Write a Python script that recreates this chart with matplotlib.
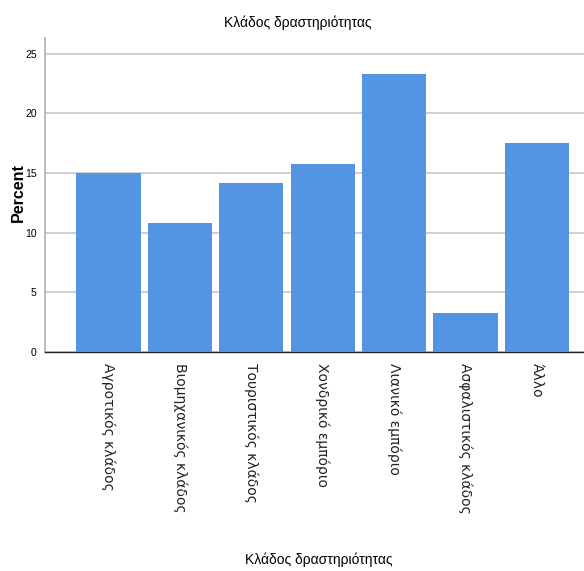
import matplotlib.pyplot as plt
import numpy as np

categories = ['Αγροτικός κλάδος', 'Βιομηχανικός κλάδος', 'Τουριστικός κλάδος',
              'Χονδρικό εμπόριο', 'Λιανικό εμπόριο', 'Ασφαλιστικός κλάδος', 'Άλλο']
percent = [15.0, 10.8, 14.2, 15.8, 23.3, 3.3, 17.5]
yticks = [0, 5, 10, 15, 20, 25]

narrow = ['Liberation Sans Narrow', 'Liberation Sans', 'DejaVu Sans']

fig = plt.figure(figsize=(5.84, 5.71), dpi=100)
ax = fig.add_axes([0.077, 0.3835, 1.0 - 0.077, 0.933 - 0.3835])

x = np.arange(len(categories))
ax.bar(x, percent, width=0.9, color='#5394e3', zorder=3)

ax.set_xlim(-0.89, 6.66)
ax.set_ylim(0, 26.3)
ax.set_yticks(yticks)
ax.set_yticklabels([str(t) for t in yticks], family=narrow, fontsize=7.5)
ax.yaxis.grid(True, color='#c8c8c8', linewidth=1.2, zorder=0)
ax.tick_params(axis='y', length=0, pad=6)
ax.tick_params(axis='x', length=0, pad=8)
ax.set_xticks(x)
ax.set_xticklabels(categories, rotation=270, fontsize=10, va='top', ha='center',
                   color='#222222')

for s in ['top', 'right']:
    ax.spines[s].set_visible(False)
ax.spines['left'].set_color('#b0b0b0')
ax.spines['left'].set_linewidth(1.2)
ax.spines['bottom'].set_color('#222222')
ax.spines['bottom'].set_linewidth(1.0)

fig.text(0.031, 0.662, 'Percent', rotation=90, ha='center', va='center',
         family=narrow, fontsize=11.5, fontweight='bold')
fig.text(0.51, 0.961, 'Κλάδος δραστηριότητας', ha='center', va='center',
         family=narrow, fontsize=10)
fig.text(0.545, 0.019, 'Κλάδος δραστηριότητας', ha='center', va='center',
         family=narrow, fontsize=10)

fig.savefig('out.png', dpi=100)
